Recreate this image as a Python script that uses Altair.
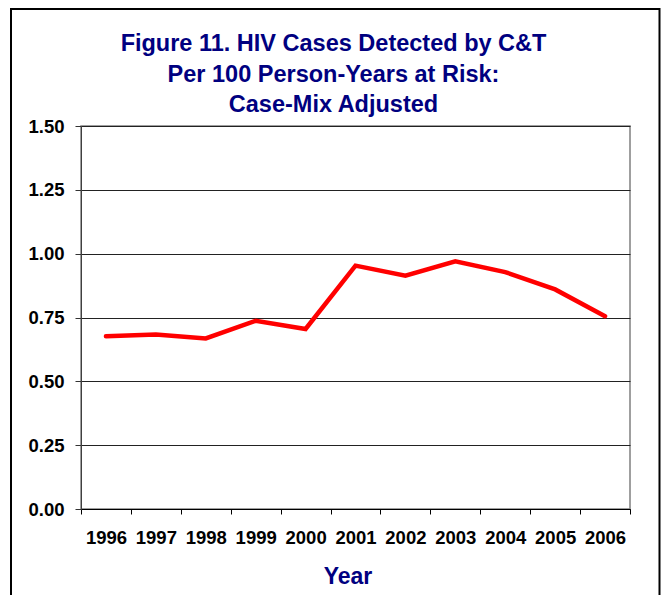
import altair as alt
import pandas as pd

years = ["1996", "1997", "1998", "1999", "2000", "2001", "2002", "2003", "2004", "2005", "2006"]
rates = [0.677, 0.683, 0.668, 0.737, 0.705, 0.953, 0.914, 0.970, 0.928, 0.860, 0.755]
y_ticks = [0.0, 0.25, 0.5, 0.75, 1.0, 1.25, 1.5]
title_lines = ["Figure 11. HIV Cases Detected by C&T", "Per 100 Person-Years at Risk:", "Case-Mix Adjusted"]

df = pd.DataFrame({"Year": years, "Rate": rates})

FONT = "Liberation Sans"
NAVY = "#000080"

line = alt.Chart(df).mark_line(color="#FF0000", strokeWidth=4.5, strokeCap="round", strokeJoin="miter").encode(
    x=alt.X(
        "Year:O",
        bandPosition=0.5,
        sort=years,
        scale=alt.Scale(type="band", paddingInner=0, paddingOuter=0),
        axis=alt.Axis(
            title="Year",
            labelAngle=0,
            tickBand="extent",
            tickSize=5,
            tickColor="#000000",
            domainColor="#000000",
            labelFontSize=18.5,
            labelFontWeight="bold",
            labelFont=FONT,
            labelColor="#000000",
            labelPadding=14,
            titleFont=FONT,
            titleFontSize=23,
            titleFontWeight="bold",
            titleColor=NAVY,
            titleX=266.5,
            titleY=74,
            titleAlign="center",
            titleBaseline="alphabetic",
            grid=False,
        ),
    ),
    y=alt.Y(
        "Rate:Q",
        scale=alt.Scale(domain=[0, 1.5], nice=False, zero=True),
        axis=alt.Axis(
            title=None,
            values=y_ticks,
            format=".2f",
            grid=True,
            gridColor="#222222",
            gridWidth=1,
            tickSize=6,
            tickColor="#333333",
            domainColor="#404040",
            labelFontSize=18.5,
            labelFontWeight="bold",
            labelFont=FONT,
            labelColor="#000000",
            labelPadding=11,
        ),
    ),
)

frame = alt.Chart(pd.DataFrame({"f": [0]})).mark_rect(
    filled=False, stroke="#000000", strokeWidth=2
).encode(
    x=alt.value(-70),
    x2=alt.value(578.5),
    y=alt.value(-117),
    y2=alt.value(520),
)

chart = alt.layer(frame, line).properties(
    width=549,
    height=383,
    padding={"left": 73, "top": 118, "right": 31, "bottom": 99},
    autosize=alt.AutoSizeParams(type="none"),
    background="#FFFFFF",
    title=alt.TitleParams(
        text=title_lines,
        font=FONT,
        fontSize=23.5,
        fontWeight="bold",
        color=NAVY,
        anchor="middle",
        frame="group",
        dx=-22,
        lineHeight=30.5,
        offset=-108.5,
    ),
).configure_view(stroke="#808080", strokeWidth=1.5)

chart.save("out.html", embed_options={"renderer": "svg", "actions": False})
